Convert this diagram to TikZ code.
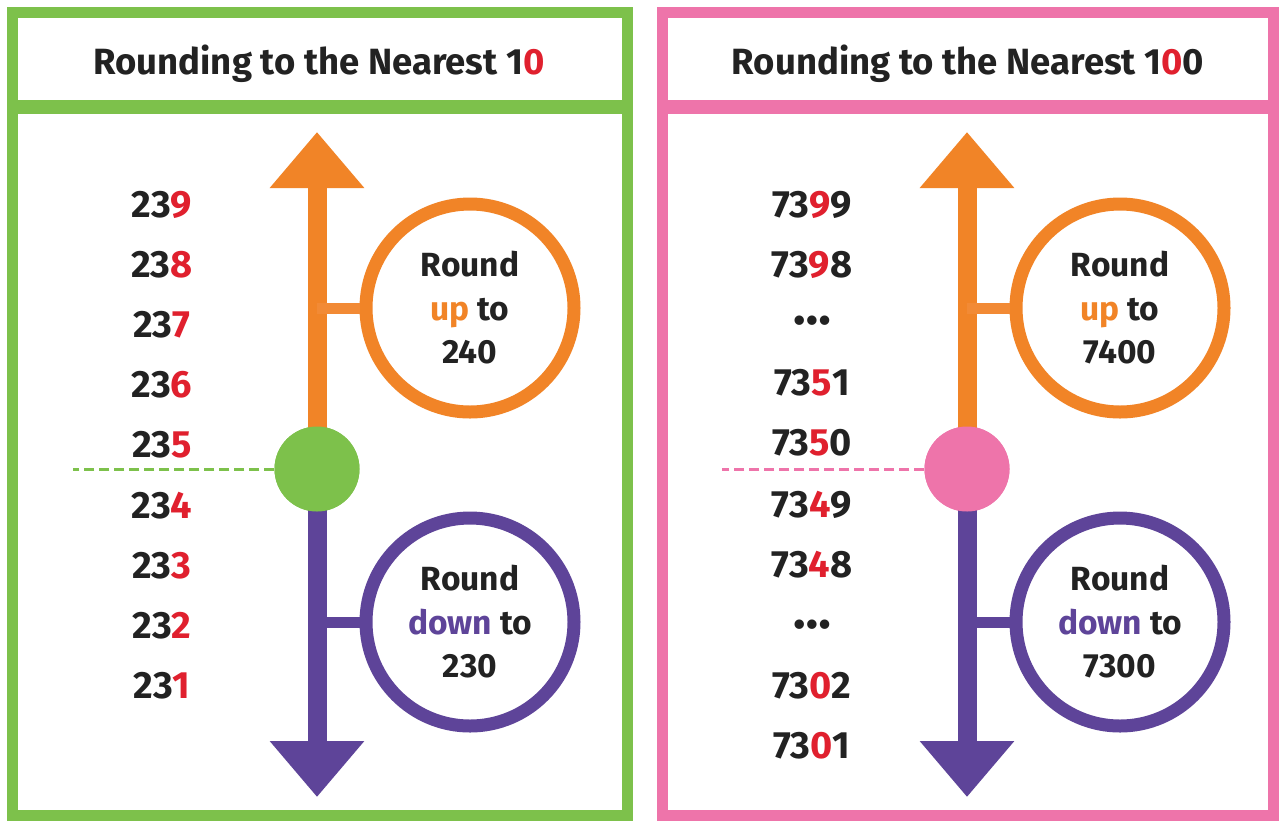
\documentclass[tikz,border=0pt]{standalone}
\usepackage{fontspec}
\setmainfont{Fira Sans}
\usetikzlibrary{arrows.meta}
\definecolor{greenC}{HTML}{7DC14B}
\definecolor{pinkC}{HTML}{EE74AA}
\definecolor{orangeC}{HTML}{F18427}
\definecolor{orangeL}{HTML}{F28A35}
\definecolor{purpleC}{HTML}{5E4499}
\definecolor{redC}{HTML}{E0202E}
\definecolor{inkC}{HTML}{222222}
\newcommand{\rd}[1]{\textcolor{redC}{#1}}
\begin{document}
\begin{tikzpicture}[x=1pt,y=-1pt,
  title/.style={font=\fontsize{36.5}{40}\selectfont\bfseries, text=inkC, anchor=base, inner sep=0},
  num/.style={font=\fontsize{38}{40}\selectfont\bfseries, text=inkC, anchor=base, inner sep=0},
  ell/.style={font=\fontsize{52}{52}\selectfont\bfseries, text=inkC, anchor=base, inner sep=0},
  ring/.style={circle, draw=#1, line width=13pt, minimum size=208pt, inner sep=0,
     font=\fontsize{33.5}{43.5}\selectfont\bfseries, text=inkC, align=center},
  dot/.style={circle, fill=#1, minimum size=85pt, inner sep=0},
  shaft/.style={draw=#1, line width=19pt, -{Triangle[length=56pt,width=91pt]}},
  bar/.style={draw=#1, line width=11pt},
  dashln/.style={draw=#1, line width=3pt, dash pattern=on 10pt off 5pt},
  frame/.style={draw=#1, line width=11pt}
]
\useasboundingbox (0,0) rectangle (1281,823);
\fill[white] (0,0) rectangle (1281,823);

% ---------- left panel ----------
\draw[frame=greenC] (12.5,12.5) rectangle (627.5,815.5);
\fill[greenC] (7,100) rectangle (633,114);
\node[title] (tL) at (319,74) {Rounding to the Nearest 1\rd{0}};

\node[dot=greenC] (dotL) at (317,469) {};
\coordinate (tipUL) at (317,132);
\coordinate (tipDL) at (317,797);
\draw[shaft=orangeC] (dotL.center) -- (tipUL);
\draw[shaft=purpleC] (dotL.center) -- (tipDL);
\node[dot=greenC] at (dotL.center) {};
\coordinate (dashL) at (73,469);
\draw[dashln=greenC] (dotL.west) -- (dashL);

\node[ring=orangeC] (upL) at (470,308) {Round\\\textcolor{orangeC}{up} to\\240};
\node[ring=purpleC] (dnL) at (470,622) {Round\\\textcolor{purpleC}{down} to\\230};
\draw[bar=orangeL] (upL.west) -- (upL.west -| dotL.center);
\draw[bar=purpleC] (dnL.west) -- (dnL.west -| dotL.center);

\node[num] (a9) at (162,217) {23\rd{9}};
\node[num] (a8) at (162,277.5) {23\rd{8}};
\node[num] (a7) at (162,337.5) {23\rd{7}};
\node[num] (a6) at (162,397.5) {23\rd{6}};
\node[num] (a5) at (162,457.5) {23\rd{5}};
\node[num] (a4) at (162,518.5) {23\rd{4}};
\node[num] (a3) at (162,578.5) {23\rd{3}};
\node[num] (a2) at (162,638.5) {23\rd{2}};
\node[num] (a1) at (162,698.5) {23\rd{1}};

% ---------- right panel ----------
\draw[frame=pinkC] (662.5,12.5) rectangle (1273.5,815.5);
\fill[pinkC] (657,100) rectangle (1279,114);
\node[title] (tR) at (968,74) {Rounding to the Nearest 1\rd{0}0};

\node[dot=pinkC] (dotR) at (967,469) {};
\coordinate (tipUR) at (967,132);
\coordinate (tipDR) at (967,797);
\draw[shaft=orangeC] (dotR.center) -- (tipUR);
\draw[shaft=purpleC] (dotR.center) -- (tipDR);
\node[dot=pinkC] at (dotR.center) {};
\coordinate (dashR) at (722,469);
\draw[dashln=pinkC] (dotR.west) -- (dashR);

\node[ring=orangeC] (upR) at (1120,308) {Round\\\textcolor{orangeC}{up} to\\7400};
\node[ring=purpleC] (dnR) at (1120,622) {Round\\\textcolor{purpleC}{down} to\\7300};
\draw[bar=orangeL] (upR.west) -- (upR.west -| dotR.center);
\draw[bar=purpleC] (dnR.west) -- (dnR.west -| dotR.center);

\node[num] (b1) at (812,217) {73\rd{9}9};
\node[num] (b2) at (812,277.5) {73\rd{9}8};
\node[ell] (b3) at (812,324) {\dots};
\node[num] (b4) at (812,395.5) {73\rd{5}1};
\node[num] (b5) at (812,455.5) {73\rd{5}0};
\node[num] (b6) at (812,517.5) {73\rd{4}9};
\node[num] (b7) at (812,577.5) {73\rd{4}8};
\node[ell] (b8) at (812,628) {\dots};
\node[num] (b9) at (812,698.5) {73\rd{0}2};
\node[num] (b10) at (812,758.5) {73\rd{0}1};
\end{tikzpicture}
\end{document}
